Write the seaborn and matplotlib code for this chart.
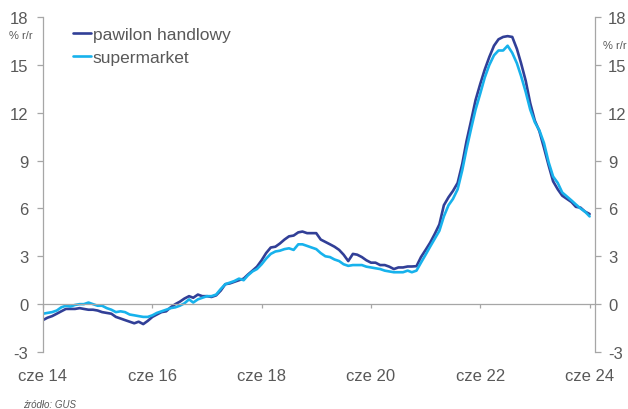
import numpy as np
import pandas as pd
import matplotlib
matplotlib.use("Agg")
import matplotlib.pyplot as plt
import seaborn as sns

# ---------------- data ----------------
start_month = "2014-06-01"
series_names = ["pawilon handlowy", "supermarket"]

pawilon = [
    -1.0, -0.85, -0.75, -0.6, -0.45, -0.3, -0.3, -0.3, -0.25, -0.3,
    -0.35, -0.35, -0.4, -0.5, -0.55, -0.6, -0.8, -0.9, -1.0, -1.1,
    -1.2, -1.1, -1.25, -1.05, -0.8, -0.65, -0.5, -0.45, -0.2, 0.0,
    0.15, 0.35, 0.5, 0.4, 0.6, 0.5, 0.5, 0.45, 0.55, 0.85,
    1.25, 1.3, 1.4, 1.5, 1.6, 1.85, 2.1, 2.35, 2.75, 3.2,
    3.55, 3.6, 3.8, 4.05, 4.25, 4.3, 4.5, 4.55, 4.45, 4.45,
    4.45, 4.05, 3.9, 3.75, 3.6, 3.4, 3.1, 2.7, 3.15, 3.1,
    2.95, 2.75, 2.6, 2.6, 2.45, 2.45, 2.35, 2.2, 2.3, 2.3,
    2.36, 2.36, 2.38, 2.95, 3.4, 3.85, 4.4, 5.0, 6.2, 6.7,
    7.1, 7.6, 8.8, 10.2, 11.5, 12.8, 13.8, 14.7, 15.5, 16.2,
    16.6, 16.75, 16.8, 16.75, 16.0, 15.1, 14.0, 12.6, 11.5, 10.85,
    9.8, 8.7, 7.7, 7.2, 6.8, 6.6, 6.4, 6.1, 6.05, 5.8,
    5.65,
]

supermarket = [
    -0.6, -0.55, -0.5, -0.4, -0.2, -0.1, -0.15, -0.05, 0.0, 0.0,
    0.1, 0.0, -0.1, -0.1, -0.25, -0.35, -0.5, -0.45, -0.5, -0.65,
    -0.7, -0.75, -0.8, -0.8, -0.7, -0.55, -0.45, -0.35, -0.25, -0.2,
    -0.1, 0.05, 0.3, 0.1, 0.3, 0.4, 0.5, 0.5, 0.6, 0.95,
    1.25, 1.35, 1.45, 1.6, 1.5, 1.8, 2.05, 2.2, 2.5, 2.85,
    3.15, 3.3, 3.35, 3.45, 3.5, 3.4, 3.75, 3.75, 3.65, 3.55,
    3.45, 3.2, 3.0, 2.95, 2.8, 2.7, 2.5, 2.4, 2.45, 2.45,
    2.45, 2.35, 2.3, 2.25, 2.2, 2.1, 2.05, 2.0, 2.0, 2.0,
    2.1, 2.0, 2.1, 2.6, 3.1, 3.6, 4.1, 4.6, 5.5, 6.2,
    6.6, 7.2, 8.4, 9.7, 11.0, 12.2, 13.2, 14.2, 15.0, 15.6,
    15.9, 15.9, 16.2, 15.75, 15.1, 14.3, 13.3, 12.2, 11.4, 10.9,
    10.1, 8.9, 8.0, 7.6, 7.0, 6.75, 6.5, 6.25, 6.0, 5.8,
    5.5,
]

y_ticks = [-3, 0, 3, 6, 9, 12, 15, 18]
x_tick_dates = ["2014-06-01", "2016-06-01", "2018-06-01",
                "2020-06-01", "2022-06-01", "2024-06-01"]
x_tick_labels = ["cze 14", "cze 16", "cze 18", "cze 20", "cze 22", "cze 24"]

dates = pd.date_range(start_month, periods=len(pawilon), freq="MS")
df = pd.DataFrame({
    "date": np.concatenate([dates, dates]),
    "value": pawilon + supermarket,
    "series": [series_names[0]] * len(dates) + [series_names[1]] * len(dates),
})

# ---------------- style ----------------
sns.set_theme(style="white")
plt.rcParams["font.family"] = ["Liberation Sans", "DejaVu Sans"]
plt.rcParams["axes.unicode_minus"] = False

DARK = "#313F97"
LIGHT = "#17B2EC"
AXIS = "#A6A6A6"
TEXT = "#595959"

W, H = 628, 410
fig = plt.figure(figsize=(W / 100, H / 100), dpi=100)
ax = fig.add_axes([43 / W, 1 - 353 / H, (595 - 43) / W, (353 - 18) / H])

sns.lineplot(data=df, x="date", y="value", hue="series",
             hue_order=series_names, palette=[DARK, LIGHT],
             linewidth=1.9, ax=ax, legend=False)

ax.set_xlim(pd.Timestamp("2014-06-01"), pd.Timestamp("2024-07-07"))
ax.set_ylim(-3, 18)
ax.set_xlabel("")
ax.set_ylabel("")
ax.grid(False)

# x axis drawn at zero
ax.spines["bottom"].set_position(("data", 0))
ax.spines["bottom"].set_color(AXIS)
ax.spines["bottom"].set_linewidth(0.9)
ax.spines["left"].set_color(AXIS)
ax.spines["left"].set_linewidth(0.9)
ax.spines["top"].set_visible(False)
ax.spines["right"].set_visible(False)

ax.set_xticks([pd.Timestamp(d) for d in x_tick_dates])
ax.set_xticklabels(x_tick_labels)
ax.tick_params(axis="x", direction="out", length=3, width=0.9, color=AXIS,
               pad=43, labelsize=12, labelcolor=TEXT, bottom=True)

ax.set_yticks(y_ticks)
ax.set_yticklabels([str(t) for t in y_ticks])
ax.tick_params(axis="y", direction="out", length=4.5, width=0.9, color=AXIS,
               pad=6, labelsize=12, labelcolor=TEXT, left=True)

# right axis
ax2 = ax.twinx()
ax2.set_ylim(-3, 18)
ax2.set_yticks(y_ticks)
ax2.set_yticklabels([str(t) for t in y_ticks])
ax2.tick_params(axis="y", direction="out", length=4.5, width=0.9, color=AXIS,
                pad=5, labelsize=12, labelcolor=TEXT, right=True)
for s in ["top", "bottom", "left"]:
    ax2.spines[s].set_visible(False)
ax2.spines["right"].set_color(AXIS)
ax2.spines["right"].set_linewidth(0.9)
ax2.grid(False)

# legend
handles = ax.get_lines()[:2]
leg = ax.legend(handles, series_names, loc="upper left",
                bbox_to_anchor=(73 / W, 1 - 28 / H),
                bbox_transform=fig.transFigure, frameon=False,
                fontsize=12.5, handlelength=1.05, handletextpad=0.1,
                labelspacing=0.43, borderpad=0, borderaxespad=0)
for t in leg.get_texts():
    t.set_color(TEXT)

# unit labels and source
fig.text(21 / W, 1 - 36 / H, "% r/r", ha="center", va="center",
         fontsize=8, color=TEXT)
fig.text(615 / W, 1 - 46 / H, "% r/r", ha="center", va="center",
         fontsize=8, color=TEXT)
fig.text(23 / W, 1 - 405 / H, "źródło: GUS", ha="left", va="center",
         fontsize=7, style="italic", color=TEXT)

fig.savefig("out.png", dpi=100)
